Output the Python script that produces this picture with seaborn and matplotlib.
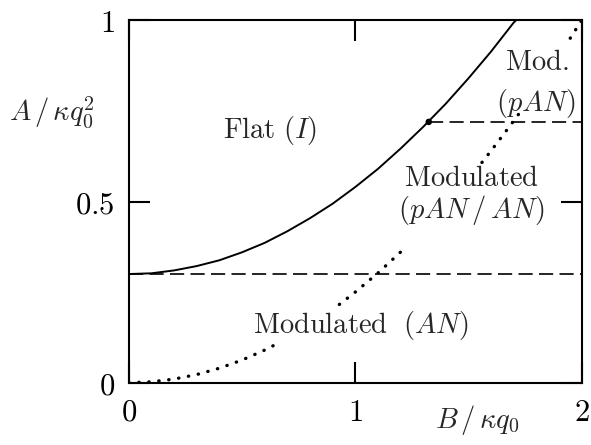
"""
Phase diagram: flat / modulated regions in the (B/kq0, A/kq0^2) plane
"""
import pandas as pd
import numpy as np
import matplotlib
matplotlib.use('Agg')
import matplotlib.pyplot as plt
import seaborn as sns

# ---- values ----
# solid boundary Flat / Modulated
solid_x = [0.0, 0.1, 0.2, 0.3, 0.4, 0.5, 0.6, 0.7, 0.8, 0.9, 1.0,
           1.1, 1.2, 1.3, 1.4, 1.5, 1.6, 1.7, 1.71]
solid_y = [0.300, 0.302, 0.310, 0.322, 0.338, 0.360, 0.386, 0.418, 0.454, 0.494, 0.540,
           0.590, 0.646, 0.706, 0.770, 0.840, 0.914, 0.994, 1.000]

# dotted boundary (interrupted by labels), one segment id per piece
dot_x = [0.0, 0.1, 0.2, 0.3, 0.4, 0.5, 0.6, 0.65,
         0.93, 1.0, 1.1, 1.22,
         1.56, 1.6, 1.65, 1.7, 1.73,
         1.95, 2.0]
dot_y = [0.0, 0.0025, 0.010, 0.0225, 0.040, 0.0625, 0.090, 0.106,
         0.216, 0.250, 0.3025, 0.372,
         0.608, 0.640, 0.681, 0.7225, 0.748,
         0.951, 1.000]
dot_seg = [0] * 8 + [1] * 4 + [2] * 5 + [3] * 2

# dashed horizontal boundaries
dash_low_x = [0.0, 2.0]
dash_low_y = [0.3, 0.3]
dash_high_x = [1.325, 2.0]
dash_high_y = [0.72, 0.72]

# triple point
triple_x = [1.325]
triple_y = [0.72]

# ---- style ----
sns.set_theme(style='ticks')
plt.rcParams['mathtext.fontset'] = 'cm'
plt.rcParams['font.family'] = ['DejaVu Serif']
plt.rcParams['axes.linewidth'] = 1.5

fig = plt.figure(figsize=(5.91, 4.45), dpi=100)
ax = fig.add_axes([0.218, 0.140, 0.766, 0.814])

df_solid = pd.DataFrame({'x': solid_x, 'y': solid_y})
df_dot = pd.DataFrame({'x': dot_x, 'y': dot_y, 'seg': dot_seg})

sns.lineplot(data=df_solid, x='x', y='y', ax=ax, color='black', lw=1.4,
             sort=False, estimator=None)
sns.lineplot(data=df_dot, x='x', y='y', units='seg', estimator=None, ax=ax,
             color='black', lw=2.4, sort=False,
             linestyle=(0, (0.1, 2.9)), dash_capstyle='round')
for xs, ys in [(dash_low_x, dash_low_y), (dash_high_x, dash_high_y)]:
    sns.lineplot(x=xs, y=ys, ax=ax, color='black', lw=1.2,
                 linestyle=(0, (8.5, 3.8)), estimator=None)
sns.scatterplot(x=triple_x, y=triple_y, ax=ax, color='black', s=22,
                edgecolor='none', zorder=5)

ax.set_xlim(0, 2)
ax.set_ylim(0, 1)
ax.set_xticks([0, 1, 2])
ax.set_yticks([0, 0.5, 1])
ax.set_xticklabels([r'$0$', r'$1$', r'$2$'])
ax.set_yticklabels([r'$0$', r'$0.5$', r'$1$'])
ax.tick_params(direction='in', length=15, width=1.5, top=True, right=True,
               labelsize=22, pad=10, colors='black')
for s in ax.spines.values():
    s.set_color('black')
ax.set_xlabel('')
ax.set_ylabel('')

fs = 20.5
ax.text(0.625, 0.695, r'$\mathrm{Flat}\ (I)$', fontsize=fs, ha='center', va='center')
ax.text(1.801, 0.885, r'$\mathrm{Mod.}$', fontsize=fs, ha='center', va='center')
ax.text(1.797, 0.772, r'$(pAN)$', fontsize=fs, ha='center', va='center')
ax.text(1.515, 0.565, r'$\mathrm{Modulated}$', fontsize=fs, ha='center', va='center')
ax.text(1.515, 0.478, r'$(pAN\,/\,AN)$', fontsize=fs, ha='center', va='center')
ax.text(1.027, 0.159, r'$\mathrm{Modulated}\ \ (AN)$', fontsize=fs, ha='center', va='center')

fig.text(52 / 591, 1 - 112 / 445, r'$A\,/\,\kappa q_0^2$', fontsize=fs, ha='center', va='center')
fig.text(477 / 591, 1 - 420 / 445, r'$B\,/\,\kappa q_0$', fontsize=fs, ha='center', va='center')

plt.savefig('out.png', dpi=100)
plt.close()
